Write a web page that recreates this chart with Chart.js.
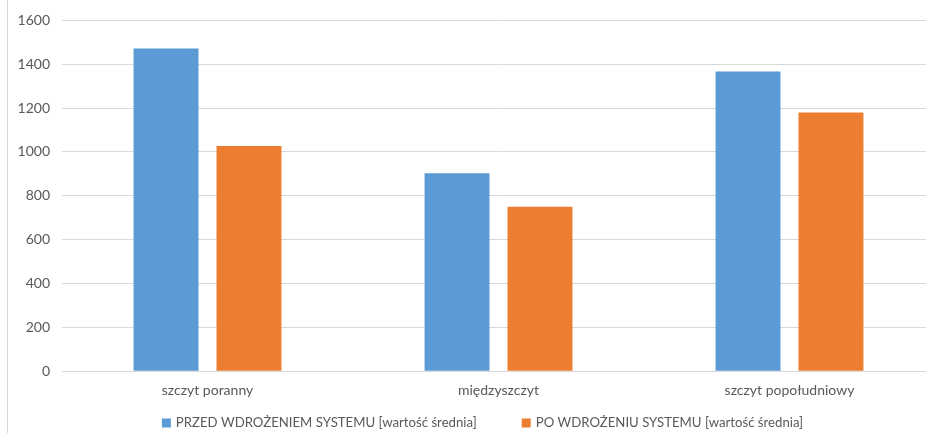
<!DOCTYPE html>
<html>
<head>
<meta charset="utf-8">
<script src="https://cdn.jsdelivr.net/npm/chart.js@4"></script>
<style>
  html, body { margin: 0; padding: 0; background: #fff; overflow: hidden; }
  #frame { position: absolute; left: 0; top: 0; width: 965px; height: 433px; }
  #edge { position: absolute; left: 7px; top: 0; width: 1px; height: 433px; background: #d9d9d9; }
</style>
</head>
<body>
<div id="frame"><canvas id="c" width="965" height="433"></canvas></div>
<div id="edge"></div>
<script>
// Travel time by period of the day, before and after the system rollout
const categories = ['szczyt poranny', 'międzyszczyt', 'szczyt popołudniowy'];
const seriesNames = ['PRZED WDROŻENIEM SYSTEMU [wartość średnia]', 'PO WDROŻENIU SYSTEMU [wartość średnia]'];
const beforeValues = [1472, 903, 1367];
const afterValues = [1027, 750, 1180];
const yTicks = [0, 200, 400, 600, 800, 1000, 1200, 1400, 1600];

const textColor = '#595959';
const gridColor = '#d9d9d9';
const fontFamily = 'Lato, "Open Sans", sans-serif';
const tickFont = { family: fontFamily, size: 14 };
const legendFontSize = 13.2;

// Legend drawn below the category labels: square swatch + series name, items centred on the canvas
const bottomLegend = {
  id: 'bottomLegend',
  afterDraw(chart) {
    const ctx = chart.ctx;
    const box = 9, boxGap = 5, itemGap = 45;
    const y = chart.height - 10;
    ctx.save();
    ctx.font = legendFontSize + 'px ' + fontFamily;
    ctx.textBaseline = 'middle';
    ctx.textAlign = 'left';
    const items = chart.data.datasets.map(ds => ({
      text: ds.label,
      color: ds.backgroundColor,
      w: box + boxGap + ctx.measureText(ds.label).width
    }));
    const total = items.reduce((s, it) => s + it.w, 0) + itemGap * (items.length - 1);
    let x = chart.width / 2 - total / 2;
    items.forEach(it => {
      ctx.fillStyle = it.color;
      ctx.fillRect(x, y - box / 2, box, box);
      ctx.fillStyle = textColor;
      ctx.fillText(it.text, x + box + boxGap, y);
      x += it.w + itemGap;
    });
    ctx.restore();
  }
};

new Chart(document.getElementById('c'), {
  type: 'bar',
  data: {
    labels: categories,
    datasets: [
      { label: seriesNames[0], data: beforeValues, backgroundColor: '#5b9bd5', yAxisID: 'y' },
      { label: seriesNames[1], data: afterValues, backgroundColor: '#ed7d31', yAxisID: 'y' }
    ]
  },
  options: {
    responsive: false,
    animation: false,
    events: [],
    datasets: { bar: { categoryPercentage: 0.57, barPercentage: 0.783 } },
    layout: { padding: { top: 19, left: 0, right: 0, bottom: 23 } },
    plugins: {
      tooltip: { enabled: false },
      title: { display: false },
      legend: { display: false }
    },
    scales: {
      x: {
        grid: { display: false, drawTicks: false },
        border: { display: true, color: gridColor },
        ticks: { color: textColor, font: tickFont, padding: 11 }
      },
      y: {
        position: 'left',
        min: 0,
        max: yTicks[yTicks.length - 1],
        afterBuildTicks: (axis) => { axis.ticks = yTicks.map(v => ({ value: v })); },
        afterFit: (axis) => { axis.width = 62; },
        grid: { color: gridColor, drawTicks: false },
        border: { display: false },
        ticks: { color: textColor, font: tickFont, padding: 12, callback: (v) => String(v) }
      },
      yRight: {
        position: 'right',
        min: 0,
        max: yTicks[yTicks.length - 1],
        afterFit: (axis) => { axis.width = 30; },
        grid: { display: false },
        border: { display: false },
        ticks: { display: false }
      }
    }
  },
  plugins: [bottomLegend]
});
</script>
</body>
</html>
